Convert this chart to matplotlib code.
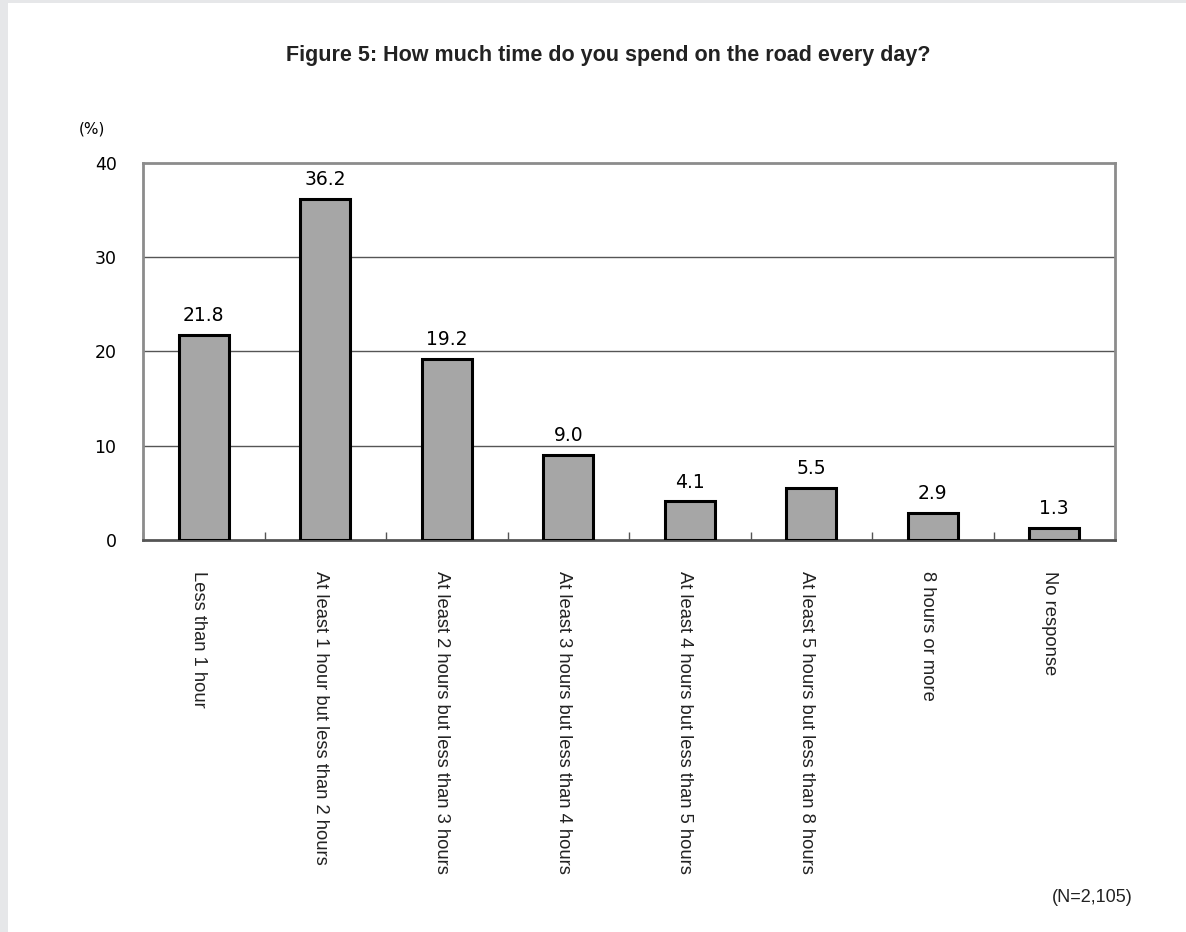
import matplotlib
matplotlib.use("Agg")
import matplotlib.pyplot as plt
from matplotlib.patches import Rectangle
from matplotlib.transforms import ScaledTranslation
import numpy as np

categories = [
    "Less than 1 hour",
    "At least 1 hour but less than 2 hours",
    "At least 2 hours but less than 3 hours",
    "At least 3 hours but less than 4 hours",
    "At least 4 hours but less than 5 hours",
    "At least 5 hours but less than 8 hours",
    "8 hours or more",
    "No response",
]
values = [21.8, 36.2, 19.2, 9.0, 4.1, 5.5, 2.9, 1.3]
y_ticks = [0, 10, 20, 30, 40]

W, H = 1186, 932
fig = plt.figure(figsize=(W / 100, H / 100), dpi=100)
fig.patch.set_facecolor("white")

# light grey frame on the left and top edges
fig.add_artist(Rectangle((0, 0), 1, 1, transform=fig.transFigure,
                         facecolor="#e6e7e9", edgecolor="none", zorder=-10))
fig.add_artist(Rectangle((8 / W, 0), 1, 1 - 3 / H, transform=fig.transFigure,
                         facecolor="white", edgecolor="none", zorder=-9))

left, right, top, bottom = 143, 1115, 163, 540
ax = fig.add_axes([left / W, 1 - bottom / H, (right - left) / W, (bottom - top) / H])

x = np.arange(len(categories))
ax.bar(x, values, width=0.41, color="#a6a6a6", edgecolor="black",
       linewidth=2.2, zorder=3)

for xi, v in zip(x, values):
    ax.annotate(f"{v:.1f}", (xi, v), xytext=(0, 7), textcoords="offset points",
                ha="center", va="bottom", fontsize=13.5, color="black",
                family="DejaVu Sans")

ax.set_xlim(-0.5, len(categories) - 0.5)
ax.set_ylim(0, 40)
ax.set_yticks(y_ticks)
ax.set_yticklabels([str(t) for t in y_ticks], fontsize=12.5, family="DejaVu Sans")
ax.tick_params(axis="y", length=0, pad=19)

# ticks between categories on the baseline
ax.set_xticks(np.arange(len(categories) + 1) - 0.5)
ax.set_xticklabels([])
ax.tick_params(axis="x", direction="in", length=6, width=1, color="#555555")

for t in y_ticks[1:-1]:
    ax.axhline(t, color="#555555", linewidth=1, zorder=1)

for side in ["top", "right", "left"]:
    ax.spines[side].set_color("#8c8c8c")
    ax.spines[side].set_linewidth(2)
ax.spines["bottom"].set_color("#555555")
ax.spines["bottom"].set_linewidth(2)

shift = ax.transData + ScaledTranslation(-5 / 100, 0, fig.dpi_scale_trans)
for xi, label in zip(x, categories):
    ax.text(xi, -3.3, label, rotation=-90, ha="center", va="top",
            fontsize=13.2, family="Liberation Sans", color="#222222",
            transform=shift)

fig.text(608 / W, 1 - 56 / H, "Figure 5: How much time do you spend on the road every day?",
         ha="center", va="center", fontsize=15.5, fontweight="bold",
         family="Liberation Sans", color="#222222")
fig.text(92 / W, 1 - 129 / H, "(%)", ha="center", va="center", fontsize=11,
         family="DejaVu Sans")
fig.text(1133 / W, 1 - 898 / H, "(N=2,105)", ha="right", va="center", fontsize=13,
         family="Liberation Sans", color="#222222")

fig.savefig("out.png", dpi=100)
